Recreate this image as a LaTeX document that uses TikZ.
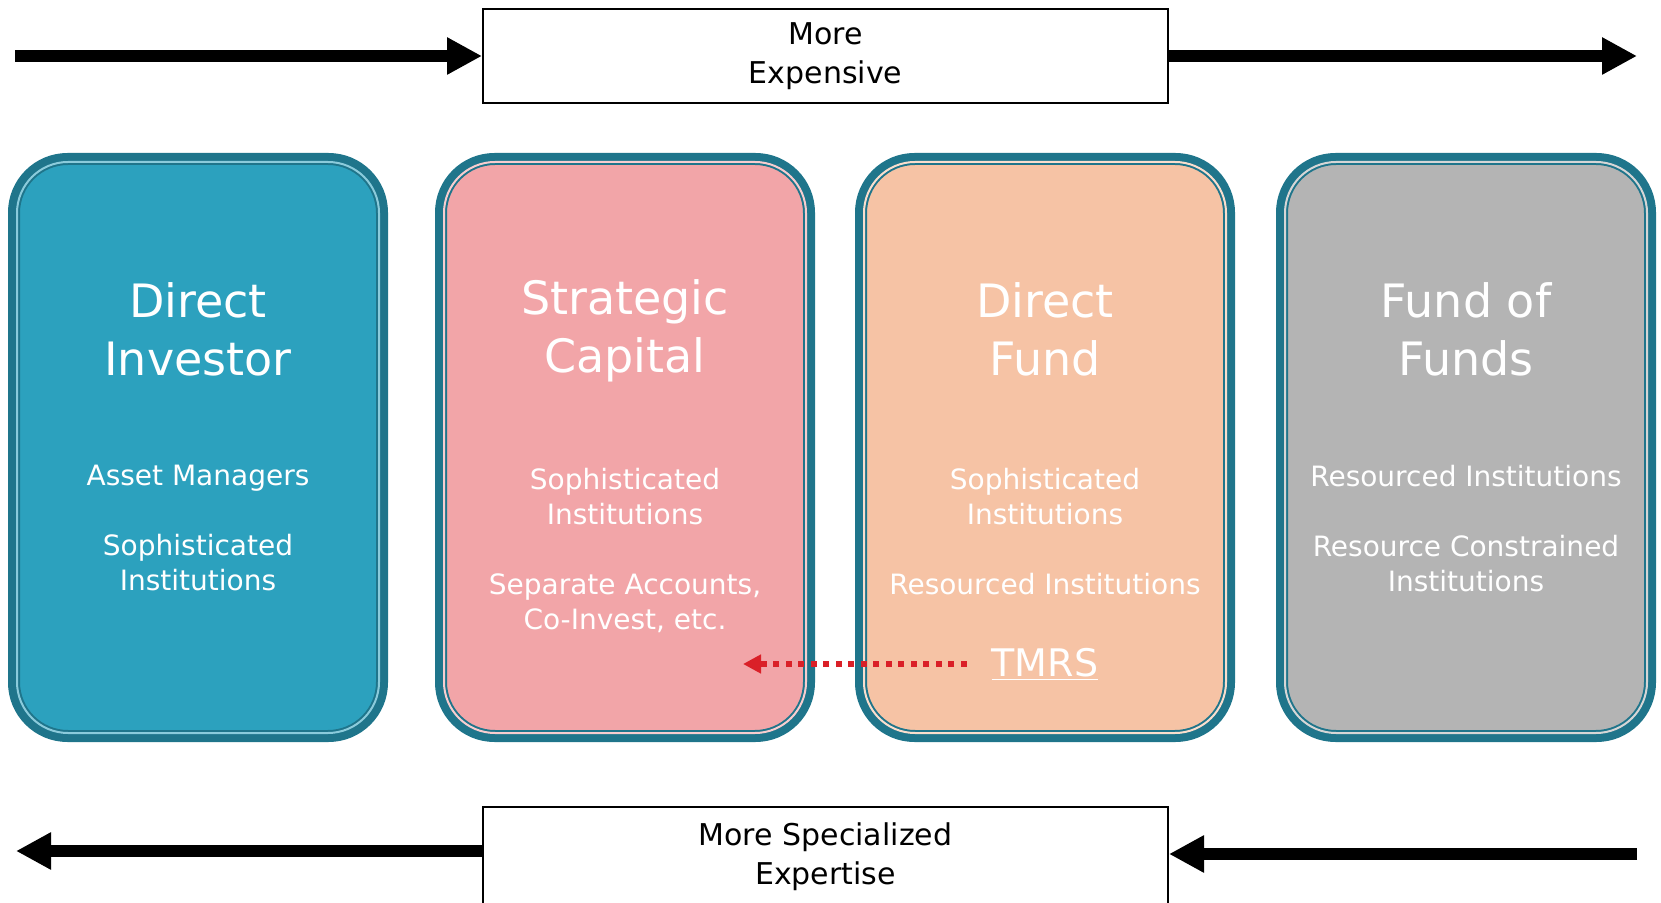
\documentclass[tikz,border=0pt]{standalone}
\usepackage{fontspec}
\setmainfont{DejaVu Sans}
\usepackage{xcolor}
\usetikzlibrary{arrows.meta}

\definecolor{rim}{RGB}{31,117,139}
\definecolor{lagoon}{RGB}{44,161,190}
\definecolor{rose}{RGB}{242,165,168}
\definecolor{peach}{RGB}{246,195,165}
\definecolor{stone}{RGB}{180,180,180}
\definecolor{signal}{RGB}{218,32,40}

\begin{document}
\begin{tikzpicture}[
  x=0.5pt, y=-0.5pt,
  card/.style={draw=rim, line width=3.5pt, rounded corners=28pt, minimum width=186.5pt, minimum height=291pt, inner sep=0pt},
  rimline/.style={draw=rim, line width=1pt, double distance=1pt, rounded corners=25.5pt},
  title/.style={text=white, align=center, font=\fontsize{23}{29}\selectfont},
  sub/.style={text=white, align=center, anchor=north, inner sep=0pt, font=\fontsize{14}{17.5}\selectfont},
  lbl/.style={draw, line width=1pt, fill=white, align=center, minimum width=342.5pt, minimum height=47pt, font=\fontsize{15}{19.5}\selectfont},
  bigarr/.style={-{Triangle[length=17.5pt, width=17.5pt]}, line width=6pt},
  dotarr/.style={-{Triangle[length=9pt, width=9pt]}, signal, line width=2.8pt, dash pattern=on 3pt off 3.25pt}
]
\path[use as bounding box] (0,0) rectangle (1661,903);
\clip (0,0) rectangle (1661,903);

% the four investor cards
\node[card, fill=lagoon] (direct) at (198,447.5) {};
\node[card, fill=rose] (strat) at (625,447.5) {};
\node[card, fill=peach] (dfund) at (1045,447.5) {};
\node[card, fill=stone] (fof) at (1466,447.5) {};
\draw[rimline, double=lagoon!55!white] ([shift={(9,9)}]direct.north west) rectangle ([shift={(-9,-9)}]direct.south east);
\draw[rimline, double=rose!55!white] ([shift={(9,9)}]strat.north west) rectangle ([shift={(-9,-9)}]strat.south east);
\draw[rimline, double=peach!55!white] ([shift={(9,9)}]dfund.north west) rectangle ([shift={(-9,-9)}]dfund.south east);
\draw[rimline, double=stone!55!white] ([shift={(9,9)}]fof.north west) rectangle ([shift={(-9,-9)}]fof.south east);

\node[title] (directT) at (198,329) {Direct\\Investor};
\node[title] (stratT) at (625,331) {Strategic\\Capital};
\node[title] (dfundT) at (1045,329) {Direct\\Fund};
\node[title] (fofT) at (1466,329) {Fund of\\Funds};

\node[sub] (directS) at (198,465) {Asset Managers\\[17.5pt]Sophisticated\\Institutions};
\node[sub] (stratS) at (625,468) {Sophisticated\\Institutions\\[17.5pt]Separate Accounts,\\Co-Invest, etc.};
\node[sub] (dfundS) at (1045,468) {Sophisticated\\Institutions\\[17.5pt]Resourced Institutions};
\node[sub] (fofS) at (1466,465) {Resourced Institutions\\[17.5pt]Resource Constrained\\Institutions};

\node[text=white, anchor=base, font=\fontsize{19}{24}\selectfont] (tmrs) at (1045,676) {\underline{TMRS}};
\coordinate (tmrsTip) at (743,664);
\draw[dotarr, shorten <=9pt] (tmrsTip -| tmrs.west) -- (tmrsTip);

% cost and expertise scales
\node[lbl] (top) at (825.5,56) {More\\Expensive};
\node[lbl, minimum height=50pt] (bottom) at (825.5,857) {More Specialized\\Expertise};
\coordinate (eL) at (15,56);
\coordinate (eR) at (1637,56);
\coordinate (sL) at (16,851);
\coordinate (sR) at (1637,854);
\draw[bigarr] (eL) -- (top.west);
\draw[bigarr] (top.east) -- (eR);
\draw[bigarr] (bottom.west |- sL) -- (sL);
\draw[bigarr] (sR) -- (bottom.east |- sR);
\end{tikzpicture}
\end{document}
